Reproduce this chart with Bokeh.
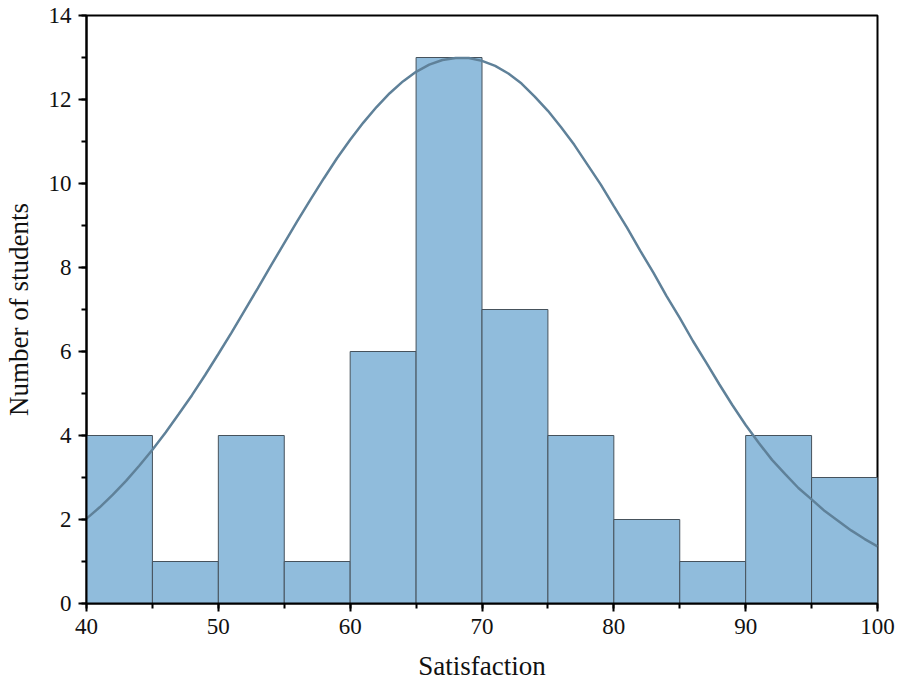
from bokeh.plotting import figure
from bokeh.models import ColumnDataSource, SingleIntervalTicker, Range1d
from bokeh.embed import file_html
from bokeh.resources import INLINE

# Histogram data
bin_left = [40, 45, 50, 55, 60, 65, 70, 75, 80, 85, 90, 95]
bin_right = [45, 50, 55, 60, 65, 70, 75, 80, 85, 90, 95, 100]
counts = [4, 1, 4, 1, 6, 13, 7, 4, 2, 1, 4, 3]

# Fitted normal curve
curve_x = [40, 41, 42, 43, 44, 45, 46, 47, 48, 49, 50, 51, 52, 53, 54, 55,
           56, 57, 58, 59, 60, 61, 62, 63, 64, 65, 66, 67, 68, 69, 70, 71,
           72, 73, 74, 75, 76, 77, 78, 79, 80, 81, 82, 83, 84, 85, 86, 87,
           88, 89, 90, 91, 92, 93, 94, 95, 96, 97, 98, 99, 100]
curve_y = [2.02, 2.29, 2.59, 2.92, 3.28, 3.66, 4.07, 4.51, 4.96, 5.44, 5.94,
           6.45, 6.98, 7.51, 8.05, 8.58, 9.11, 9.62, 10.12, 10.60, 11.04,
           11.45, 11.82, 12.15, 12.43, 12.66, 12.83, 12.94, 12.99, 12.99,
           12.92, 12.80, 12.62, 12.38, 12.07, 11.73, 11.34, 10.92, 10.45,
           9.98, 9.46, 8.95, 8.40, 7.88, 7.32, 6.80, 6.25, 5.74, 5.22, 4.72,
           4.25, 3.82, 3.42, 3.08, 2.75, 2.48, 2.20, 1.97, 1.74, 1.54, 1.36]

FONT = "Liberation Serif"

p = figure(width=905, height=697, output_backend="svg", toolbar_location=None,
           x_range=Range1d(40, 100), y_range=Range1d(0, 14),
           min_border_left=85, min_border_right=28, min_border_top=15,
           min_border_bottom=94)

src = ColumnDataSource(dict(left=bin_left, right=bin_right, top=counts,
                            bottom=[0] * len(counts)))
p.quad(left="left", right="right", top="top", bottom="bottom", source=src,
       fill_color="#90bcdc", line_color="#46525c", line_width=1)

p.line(curve_x, curve_y, line_color="#5f8199", line_width=2.5)

p.xgrid.visible = False
p.ygrid.visible = False

p.xaxis.ticker = SingleIntervalTicker(interval=10, num_minor_ticks=2)
p.yaxis.ticker = SingleIntervalTicker(interval=2, num_minor_ticks=2)

for ax in (p.xaxis[0], p.yaxis[0]):
    ax.axis_line_width = 2
    ax.axis_line_color = "black"
    ax.major_tick_out = 8
    ax.major_tick_in = 0
    ax.minor_tick_out = 5
    ax.minor_tick_in = 0
    ax.major_tick_line_width = 2
    ax.minor_tick_line_width = 2
    ax.major_label_text_font = FONT
    ax.major_label_text_font_size = "23px"
    ax.major_label_text_color = "#111111"
    ax.axis_label_text_font = FONT
    ax.axis_label_text_font_size = "27px"
    ax.axis_label_text_font_style = "normal"
    ax.axis_label_text_color = "#111111"

p.xaxis.axis_label = "Satisfaction"
p.yaxis.axis_label = "Number of students"
p.xaxis.major_label_standoff = 7
p.yaxis.major_label_standoff = 7
p.xaxis.axis_label_standoff = 14
p.yaxis.axis_label_standoff = 12

p.outline_line_color = "black"
p.outline_line_width = 2
p.outline_line_alpha = 1

open("out.html", "w").write(file_html(p, INLINE))
